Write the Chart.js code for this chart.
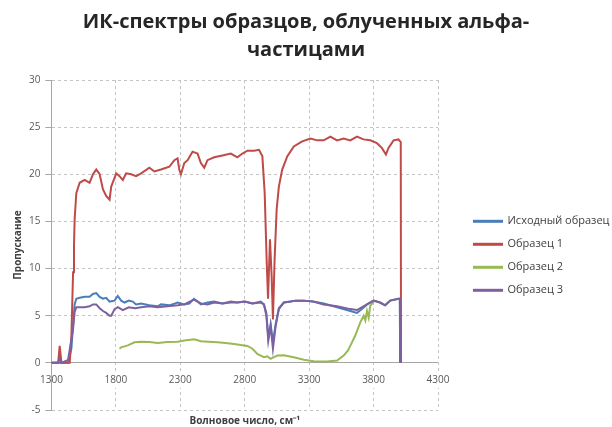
<!DOCTYPE html>
<html>
<head>
<meta charset="utf-8">
<script src="https://cdn.jsdelivr.net/npm/chart.js@4"></script>
<style>
  body { margin: 0; background: #fff; }
</style>
</head>
<body>
<canvas id="irChart" width="612" height="427"></canvas>
<script>
const seriesNames = ["Исходный образец", "Образец 1", "Образец 2", "Образец 3"];
const seriesColors = ["#4a7ebb", "#be4b48", "#98b954", "#7d60a0"];

const xTicks = [1300, 1800, 2300, 2800, 3300, 3800, 4300];
const yTicks = [-5, 0, 5, 10, 15, 20, 25, 30];

// Исходный образец
const wnInitial = [1300, 1430, 1455, 1468, 1480, 1493, 1519, 1558, 1596,
  1622, 1648, 1674, 1700, 1725, 1751, 1790, 1815, 1841, 1867,
  1900, 1931, 1957, 1996, 2060, 2125, 2150, 2215, 2280, 2330,
  2370, 2406, 2434, 2460, 2511, 2563, 2627, 2692, 2743, 2800,
  2860, 2924, 2949, 2968, 2983, 3001, 3019, 3040, 3065, 3104,
  3156, 3194, 3259, 3330, 3413, 3517, 3620, 3671, 3700, 3749,
  3800, 3850, 3890, 3929, 3993, 4004, 4006];
const tInitial = [0, 0, 1.5, 4, 6.2, 6.8, 6.9, 7.0, 7.0,
  7.3, 7.4, 7.0, 6.8, 6.9, 6.5, 6.6, 7.1, 6.6, 6.4,
  6.6, 6.5, 6.2, 6.3, 6.1, 6.0, 6.2, 6.1, 6.4, 6.2,
  6.3, 6.8, 6.5, 6.2, 6.4, 6.5, 6.3, 6.5, 6.4, 6.5,
  6.3, 6.5, 6.2, 5.3, 2.7, 4.1, 2.2, 4.1, 5.8, 6.4,
  6.5, 6.6, 6.6, 6.5, 6.3, 5.9, 5.5, 5.3, 5.6, 6.2,
  6.6, 6.4, 6.1, 6.6, 6.8, 6.8, 0];

// Образец 1
const wnSample1 = [1300, 1352, 1364, 1378, 1442, 1455, 1468, 1475, 1480, 1493,
  1519, 1558, 1596, 1622, 1648, 1674, 1700, 1725, 1751, 1764,
  1803, 1828, 1854, 1880, 1919, 1957, 1996, 2060, 2099, 2150,
  2215, 2254, 2279, 2292, 2305, 2331, 2357, 2395, 2434, 2460,
  2486, 2511, 2563, 2627, 2692, 2743, 2782, 2821, 2872, 2911,
  2937, 2955, 2970, 2981, 2996, 3009, 3019, 3032, 3048, 3065,
  3091, 3130, 3181, 3246, 3310, 3362, 3413, 3465, 3516, 3568,
  3619, 3671, 3722, 3774, 3826, 3864, 3896, 3916, 3955, 3993,
  4011, 4013];
const tSample1 = [0, 0, 1.8, 0, 0, 2.9, 9.6, 12.4, 15.2, 18,
  19.1, 19.4, 19.1, 20, 20.5, 20, 18.4, 17.7, 17.3, 18.7,
  20.1, 19.8, 19.4, 20.1, 20, 19.8, 20.1, 20.7, 20.3, 20.5,
  20.8, 21.5, 21.7, 20.5, 20, 21.2, 21.5, 22.4, 22.2, 21.2,
  20.7, 21.5, 21.8, 22, 22.2, 21.8, 22.2, 22.5, 22.5, 22.6,
  21.9, 18, 11, 6.8, 13.1, 9.2, 4.6, 11, 16.3, 18.7,
  20.5, 21.9, 22.95, 23.5, 23.8, 23.6, 23.6, 24, 23.6, 23.8,
  23.6, 24, 23.7, 23.6, 23.3, 22.8, 22.1, 22.8, 23.6, 23.7,
  23.4, 0];

// Образец 2
const wnSample2 = [1828, 1841, 1893, 1944, 1996, 2060, 2125, 2200, 2280, 2331,
  2408, 2460, 2520, 2589, 2650, 2718, 2795, 2821, 2860, 2898,
  2924, 2949, 2975, 3001, 3027, 3053, 3104, 3181, 3259, 3336,
  3439, 3517, 3568, 3600, 3620, 3658, 3697, 3723, 3736, 3749,
  3762, 3774, 3800, 3826];
const tSample2 = [1.5, 1.65, 1.85, 2.18, 2.25, 2.2, 2.1, 2.2, 2.25, 2.36,
  2.5, 2.3, 2.25, 2.18, 2.1, 2.0, 1.85, 1.8, 1.5, 0.95,
  0.77, 0.6, 0.7, 0.42, 0.6, 0.77, 0.8, 0.6, 0.32, 0.18,
  0.14, 0.25, 0.77, 1.3, 1.83, 2.9, 4.3, 5.0, 4.5, 5.5,
  4.8, 6.05, 6.5, 6.6];

// Образец 3
const wnSample3 = [1300, 1352, 1364, 1378, 1429, 1455, 1468, 1480, 1493, 1519,
  1558, 1596, 1622, 1648, 1674, 1700, 1725, 1751, 1764, 1790,
  1815, 1854, 1900, 1950, 1996, 2060, 2125, 2200, 2280, 2331,
  2406, 2460, 2511, 2563, 2627, 2692, 2743, 2800, 2860, 2924,
  2949, 2968, 2983, 3001, 3019, 3040, 3065, 3104, 3156, 3194,
  3259, 3330, 3413, 3517, 3620, 3671, 3749, 3800, 3850, 3890,
  3929, 3993, 4004, 4006];
const tSample3 = [0, 0, 0.5, 0, 0.3, 2.5, 3.6, 5.4, 5.9, 5.9,
  5.9, 6.0, 6.2, 6.2, 5.8, 5.5, 5.3, 5.0, 5.0, 5.7,
  5.9, 5.6, 5.9, 5.8, 5.9, 6.0, 5.9, 6.0, 6.1, 6.2,
  6.7, 6.3, 6.2, 6.4, 6.3, 6.4, 6.4, 6.5, 6.3, 6.4,
  6.2, 5.0, 2.35, 3.9, 1.5, 3.9, 5.7, 6.4, 6.5, 6.6,
  6.6, 6.5, 6.2, 6.0, 5.7, 5.6, 6.2, 6.6, 6.4, 6.1,
  6.6, 6.8, 6.8, 0];

const wnAll = [wnInitial, wnSample1, wnSample2, wnSample3];
const tAll = [tInitial, tSample1, tSample2, tSample3];

function toPoints(xs, ys) {
    return xs.map((x, i) => ({ x: x, y: ys[i] }));
}

Chart.defaults.font.family = "'Open Sans', sans-serif";
Chart.defaults.color = "#595959";

const gridColor = "#c4c4c4";
const axisColor = "#a6a6a6";

const datasets = seriesNames.map((name, i) => ({
    label: name,
    data: toPoints(wnAll[i], tAll[i]),
    borderColor: seriesColors[i],
    backgroundColor: seriesColors[i],
    borderWidth: 2,
    pointRadius: 0,
    tension: 0,
    order: 4 - i
}));

new Chart(document.getElementById("irChart"), {
    type: "line",
    data: { datasets: datasets },
    options: {
        responsive: false,
        animation: false,
        events: [],
        layout: { padding: 0 },
        scales: {
            x: {
                type: "linear",
                position: "bottom",
                min: xTicks[0],
                max: xTicks[xTicks.length - 1],
                afterBuildTicks: s => { s.ticks = xTicks.map(v => ({ value: v })); },
                grid: { color: gridColor, drawTicks: false },
                border: { display: false, dash: [3, 3] },
                // labels sit just under the zero line, like the original
                ticks: {
                    font: { size: 10 },
                    mirror: true,
                    padding: 24,
                    maxRotation: 0,
                    showLabelBackdrop: true,
                    backdropColor: "#ffffff",
                    backdropPadding: 2,
                    callback: v => String(v)
                },
                title: {
                    display: true,
                    text: "Волновое число, см⁻¹",
                    font: { size: 10, weight: "bold" },
                    color: "#404040",
                    padding: { top: -43, bottom: 0 }
                }
            },
            y: {
                min: yTicks[0],
                max: yTicks[yTicks.length - 1],
                afterBuildTicks: s => { s.ticks = yTicks.map(v => ({ value: v })); },
                grid: {
                    color: ctx => (ctx.tick && ctx.tick.value === 0) ? axisColor : gridColor,
                    tickColor: axisColor,
                    tickLength: 6,
                    tickBorderDash: []
                },
                border: {
                    color: axisColor,
                    dash: ctx => (ctx.type === "tick" && ctx.tick.value !== 0) ? [3, 3] : []
                },
                ticks: { font: { size: 10 }, padding: 5 },
                title: {
                    display: true,
                    text: "Пропускание",
                    font: { size: 10, weight: "bold" },
                    color: "#404040",
                    padding: { top: 12, bottom: 0 }
                }
            },
            gap: {
                type: "linear",
                position: "right",
                display: true,
                grid: { display: false },
                ticks: { display: false },
                border: { display: false },
                afterFit: s => { s.width = 24; }
            }
        },
        plugins: {
            title: {
                display: true,
                text: ["ИК-спектры образцов, облученных альфа-", "частицами"],
                font: { size: 20, weight: "bold", lineHeight: 1.4 },
                color: "#262626",
                padding: { top: 8, bottom: 16 }
            },
            legend: {
                position: "right",
                fullSize: false,
                maxWidth: 150,
                title: {
                    display: true,
                    text: " ",
                    font: { size: 18, lineHeight: 1.2 },
                    padding: 0
                },
                labels: {
                    boxWidth: 28,
                    boxHeight: 1,
                    padding: 12,
                    color: "#404040",
                    font: { size: 11 },
                    sort: (a, b) => a.datasetIndex - b.datasetIndex
                }
            },
            tooltip: { enabled: false }
        }
    }
});
</script>
</body>
</html>
